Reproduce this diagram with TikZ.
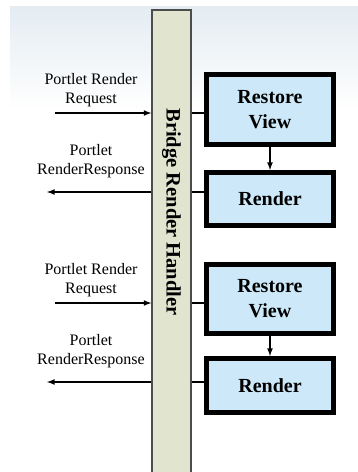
\documentclass[tikz,border=0pt]{standalone}
\usepackage{fontspec}
\setmainfont{Liberation Serif}
\usepackage{tikz}
\usetikzlibrary{arrows,positioning,shapes}
\usepackage{xcolor}

\definecolor{bgtop}{HTML}{E4ECF2}
\definecolor{barfill}{HTML}{E1E5D0}
\definecolor{boxfill}{HTML}{CDE9F9}

\begin{document}
\begin{tikzpicture}[x=1pt,y=1pt]
	\tikzstyle{handler_bar}
	  =[draw=black!70, fill=barfill, line width=1.3pt, minimum width=39pt, minimum height=472pt, inner sep=0pt]
	\tikzstyle{rect_box}
	  =[draw, fill=boxfill, line width=5pt, minimum width=127pt, text width=120pt, align=center, inner sep=0pt, font=\fontsize{20}{25}\selectfont\bfseries]
	\tikzstyle{lbl}
	  =[align=center, inner sep=0pt, font=\fontsize{16}{19}\selectfont]
	\tikzstyle{arr}
	  =[-latex, line width=1.6pt]

	\useasboundingbox (0,0) rectangle (358,-472);
	\shade[top color=bgtop, bottom color=white] (10,-6) rectangle (358,-110);

	\node[handler_bar] (handler)
	  at (171.5,-246) {};
	\node[rotate=-90, inner sep=0pt, font=\fontsize{20.5}{24}\selectfont\bfseries] (handler_txt)
	  at (171.5,-212) {Bridge Render Handler};

	\node[rect_box, minimum height=70pt] (restore1)
	  at (270,-109.5) {Restore\\View};
	\node[rect_box, minimum height=53pt] (render1)
	  [below=23pt of restore1] {Render};
	\node[rect_box, minimum height=69pt] (restore2)
	  [below=34pt of render1] {Restore\\View};
	\node[rect_box, minimum height=54pt] (render2)
	  [below=20pt of restore2] {Render};

	\coordinate (req1) at (55,-113);
	\coordinate (resp1) at (47,-192);
	\coordinate (req2) at (55,-303);
	\coordinate (resp2) at (47,-382);

	\node[lbl] (req1_lbl)
	  at (91,-90) {Portlet Render\\Request};
	\node[lbl] (resp1_lbl)
	  at (91,-161) {Portlet\\RenderResponse};
	\node[lbl] (req2_lbl)
	  at (91,-280) {Portlet Render\\Request};
	\node[lbl] (resp2_lbl)
	  at (91,-351) {Portlet\\RenderResponse};

	\draw[arr] (req1)--(req1 -| handler.west);
	\draw[arr] (resp1 -| handler.west)--(resp1);
	\draw[arr] (req2)--(req2 -| handler.west);
	\draw[arr] (resp2 -| handler.west)--(resp2);

	\draw[-,line width=1.6pt] (req1 -| handler.east)--(req1 -| restore1.west);
	\draw[-,line width=1.6pt] (resp1 -| handler.east)--(resp1 -| render1.west);
	\draw[-,line width=1.6pt] (req2 -| handler.east)--(req2 -| restore2.west);
	\draw[-,line width=1.6pt] (resp2 -| handler.east)--(resp2 -| render2.west);

	\draw[arr] (restore1)--(render1);
	\draw[arr] (restore2)--(render2);
\end{tikzpicture}
\end{document}
